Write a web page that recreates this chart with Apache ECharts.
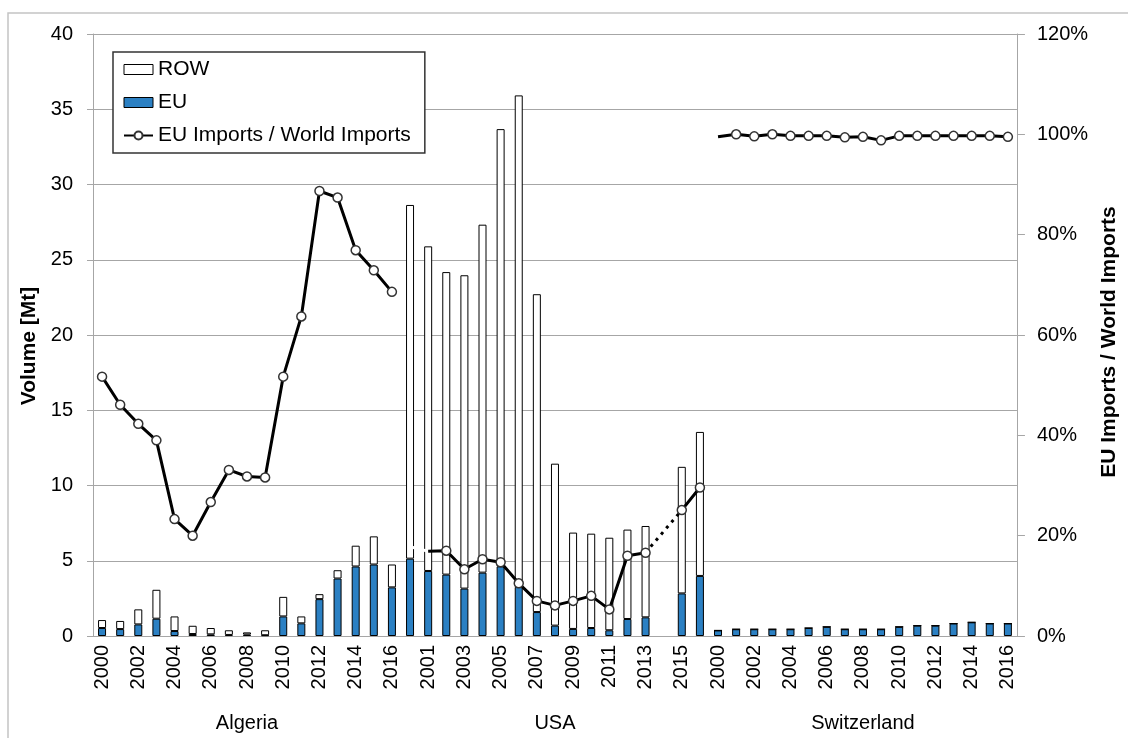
<!DOCTYPE html>
<html>
<head>
<meta charset="utf-8">
<script src="https://cdn.jsdelivr.net/npm/echarts@6/dist/echarts.min.js"></script>
<style>
  html, body { margin: 0; padding: 0; background: #fff; overflow: hidden; }
  #myChart { width: 1128px; height: 738px; }
</style>
</head>
<body>
<div id="myChart"></div>
<script>
// categories
const years = ['2000','2001','2002','2003','2004','2005','2006','2007','2008','2009','2010','2011','2012','2013','2014','2015','2016'];
const countries = ['Algeria', 'USA', 'Switzerland'];

// volumes in Mt
const algeriaEU  = [0.53,0.46,0.77,1.15,0.33,0.13,0.11,0.07,0.10,0.05,1.30,0.84,2.45,3.82,4.62,4.75,3.23];
const algeriaROW = [0.53,0.54,1.00,1.92,0.97,0.55,0.42,0.31,0.14,0.33,1.30,0.46,0.33,0.55,1.38,1.87,1.52];
const usaEU      = [5.14,4.32,4.08,3.15,4.21,4.63,3.26,1.59,0.69,0.47,0.53,0.38,1.13,1.24,null,2.83,3.99];
const usaROW     = [23.50,21.57,20.10,20.82,23.12,29.05,32.66,21.12,10.76,6.40,6.27,6.15,5.94,6.07,null,8.41,9.57];
const swissEU    = [0.37,0.45,0.45,0.45,0.45,0.53,0.61,0.45,0.45,0.45,0.61,0.69,0.69,0.83,0.91,0.83,0.83];
const swissROW   = [0,0,0,0,0,0,0,0,0,0,0,0,0,0,0,0,0];

// EU imports / world imports (share)
const algeriaShare = [0.517,0.461,0.423,0.390,0.233,0.200,0.267,0.331,0.318,0.316,0.517,0.637,0.887,0.874,0.769,0.729,0.686];
const usaShare     = [0.178,0.169,0.170,0.133,0.153,0.147,0.105,0.070,0.061,0.070,0.080,0.053,0.160,0.166,null,0.251,0.296];
const swissShare   = [0.995,1.000,0.996,1.000,0.997,0.997,0.997,0.994,0.995,0.988,0.997,0.997,0.997,0.997,0.997,0.997,0.995];

const n = years.length;
const total = n * countries.length;
const xData = years.concat(years, years);

// put a country's values at its place on the 51 long axis
function place(arr, block, from, to) {
  let out = new Array(total).fill(null);
  for (let i = from; i <= to; i++) out[block * n + i] = arr[i];
  return out;
}
const euData = algeriaEU.concat(usaEU, swissEU);
const rowData = algeriaROW.concat(usaROW, swissROW);

const lineMain = place(algeriaShare, 0, 0, n - 1);
const usaWhite = place(usaShare, 1, 0, 1);
const usaLine = place(usaShare, 1, 1, n - 1);
usaLine[n + 1] = { value: usaShare[1], symbol: 'none' };
const usaDots = place(usaShare, 1, 13, 15);
const swissLine = place(swissShare, 2, 0, n - 1);
swissLine[2 * n] = { value: swissShare[0], symbol: 'none' };

const blue = '#2b80c3';
const gridGray = '#a6a6a6';
const font = 'Liberation Sans, Arial, sans-serif';

const lineStyleBase = {
  type: 'line',
  yAxisIndex: 1,
  symbol: 'circle',
  symbolSize: 9,
  lineStyle: { color: '#000', width: 3 },
  itemStyle: { color: '#fff', borderColor: '#333', borderWidth: 1.5 },
  z: 5
};

let myChart = echarts.init(document.getElementById('myChart'));
let option = {
  animation: false,
  textStyle: { fontFamily: font, color: '#000' },
  graphic: [{
    type: 'rect',
    shape: { x: 8, y: 13, width: 1140, height: 760 },
    style: { fill: 'none', stroke: '#c4c4c4', lineWidth: 1.5 },
    silent: true, z: -1
  }],
  legend: {
    orient: 'vertical',
    left: 113,
    top: 52,
    padding: [7, 14, 7, 10],
    itemGap: 12,
    itemWidth: 29,
    itemHeight: 10,
    backgroundColor: '#fff',
    borderColor: '#333',
    borderWidth: 1.5,
    borderRadius: 0,
    textStyle: { fontSize: 21, color: '#000', fontFamily: font },
    data: [
      { name: 'ROW', icon: 'rect', itemStyle: { color: '#fff', borderColor: '#000', borderWidth: 1 } },
      { name: 'EU', icon: 'rect', itemStyle: { color: blue, borderColor: '#000', borderWidth: 1 } },
      { name: 'EU Imports / World Imports' }
    ]
  },
  grid: { left: 93, right: 101, top: 34, bottom: 102, containLabel: false },
  xAxis: [
    {
      type: 'category',
      data: xData,
      position: 'bottom',
      axisLine: { lineStyle: { color: gridGray } },
      axisTick: { interval: 0, length: 70, lineStyle: { color: gridGray } },
      axisLabel: { interval: 1, rotate: 90, fontSize: 20, margin: 9, color: '#000' }
    },
    {
      type: 'category',
      data: countries,
      position: 'bottom',
      axisLine: { show: false },
      axisTick: { interval: 0, length: 102, lineStyle: { color: gridGray } },
      axisLabel: { interval: 0, fontSize: 20, margin: 77, color: '#000' }
    }
  ],
  yAxis: [
    {
      type: 'value',
      min: 0, max: 40, interval: 5,
      name: 'Volume [Mt]',
      nameLocation: 'middle',
      nameGap: 50,
      nameTextStyle: { fontSize: 21, fontWeight: 'bold', color: '#000', padding: [0, 22, 0, 0] },
      axisLine: { show: true, lineStyle: { color: gridGray } },
      axisTick: { show: true, length: 6, lineStyle: { color: gridGray } },
      axisLabel: { fontSize: 20, margin: 20, color: '#000' },
      splitLine: { lineStyle: { color: gridGray } }
    },
    {
      type: 'value',
      min: 0, max: 1.2, interval: 0.2,
      name: 'EU Imports / World Imports',
      nameLocation: 'middle',
      nameGap: 80,
      nameTextStyle: { fontSize: 21, fontWeight: 'bold', color: '#000', padding: [0, 14, 0, 0] },
      axisLine: { show: true, lineStyle: { color: gridGray } },
      axisTick: { show: true, length: 8, lineStyle: { color: gridGray } },
      axisLabel: { fontSize: 20, margin: 20, color: '#000', formatter: v => Math.round(v * 100) + '%' },
      splitLine: { show: false }
    }
  ],
  series: [
    {
      name: 'EU', type: 'bar', stack: 'vol', barWidth: 8,
      itemStyle: { color: blue, borderColor: '#000', borderWidth: 1 },
      data: euData
    },
    {
      name: 'ROW', type: 'bar', stack: 'vol', barWidth: 8,
      itemStyle: { color: '#fff', borderColor: '#000', borderWidth: 1 },
      data: rowData
    },
    Object.assign({}, lineStyleBase, { name: 'EU Imports / World Imports', data: lineMain }),
    // hidden start of the USA line, drawn white over the bars
    Object.assign({}, lineStyleBase, {
      name: 'usa-start', data: usaWhite, showSymbol: false,
      lineStyle: { color: '#fff', width: 3, type: [8, 5] }
    }),
    // 2014 is missing: dotted bridge 2013 -> 2015
    Object.assign({}, lineStyleBase, {
      name: 'usa-gap', data: usaDots, showSymbol: false, connectNulls: true,
      lineStyle: { color: '#000', width: 3, type: [3, 5] }
    }),
    Object.assign({}, lineStyleBase, { name: 'usa-share', data: usaLine }),
    Object.assign({}, lineStyleBase, { name: 'swiss-share', data: swissLine })
  ]
};
myChart.setOption(option);
</script>
</body>
</html>
